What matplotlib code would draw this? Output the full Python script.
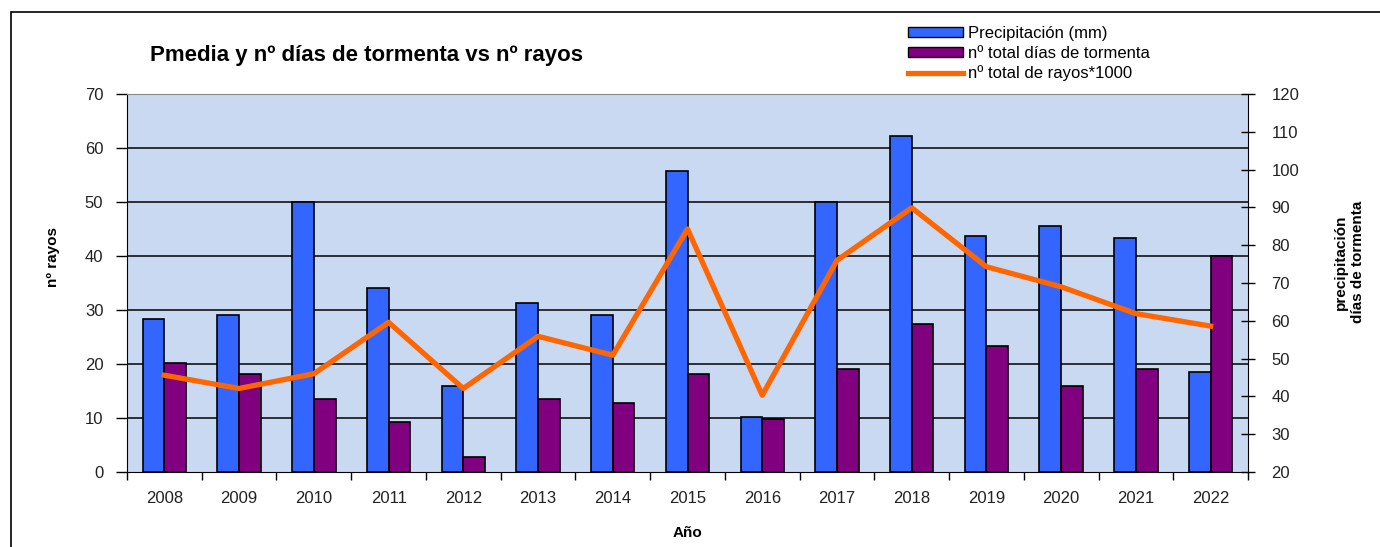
import matplotlib
matplotlib.use("Agg")
import matplotlib.pyplot as plt
import numpy as np
from matplotlib.patches import Rectangle
from matplotlib.lines import Line2D

plt.rcParams['font.family'] = ['Liberation Sans', 'DejaVu Sans']

years = ['2008', '2009', '2010', '2011', '2012', '2013', '2014', '2015',
         '2016', '2017', '2018', '2019', '2020', '2021', '2022']
precipitacion = [28.4, 29.0, 50.0, 34.1, 15.9, 31.3, 29.0, 55.7, 10.1, 50.0,
                 62.3, 43.7, 45.6, 43.4, 18.5]
dias_tormenta = [20.1, 18.2, 13.6, 9.3, 2.8, 13.5, 12.7, 18.2, 9.8, 19.0,
                 27.5, 23.3, 15.9, 19.0, 40.0]
rayos = [45.6, 42.1, 46.0, 59.6, 42.1, 55.9, 50.9, 84.3, 40.3, 76.0,
         89.9, 74.3, 69.0, 61.9, 58.6]
left_ticks = [0, 10, 20, 30, 40, 50, 60, 70]
right_ticks = [20, 30, 40, 50, 60, 70, 80, 90, 100, 110, 120]

W, H = 1380, 547
fig = plt.figure(figsize=(W / 100, H / 100), dpi=100)
fig.patch.set_facecolor('white')

# outer frame
fig.patches.append(Rectangle((11 / W, -0.1), 1.2, 1 - 12 / H + 0.1,
                             transform=fig.transFigure, fill=False,
                             edgecolor='black', lw=1.2))

ax = fig.add_axes([127 / W, 1 - 472 / H, (1248 - 127) / W, (472 - 94) / H])
ax.set_facecolor('#cad9f2')
x = np.arange(len(years))
bw = 0.29
ax.bar(x - bw / 2, precipitacion, bw, color='#3366ff', edgecolor='black',
       lw=1.2, zorder=3)
ax.bar(x + bw / 2, dias_tormenta, bw, color='#800080', edgecolor='black',
       lw=1.2, zorder=3)
ax.set_ylim(0, 70)
ax.set_xlim(-0.5, len(years) - 0.5)
ax.set_yticks(left_ticks)
ax.set_yticklabels([str(t) for t in left_ticks], fontsize=12, color='#222222')
for t in left_ticks[1:-1]:
    ax.axhline(t, color='black', lw=1.1, zorder=1)
ax.set_xticks(x)
ax.set_xticklabels(years, fontsize=12, color='#222222')
ax.tick_params(axis='x', which='major', length=0, pad=14)
ax.set_xticks(np.arange(-0.5, len(years), 1), minor=True)
ax.tick_params(axis='x', which='minor', length=6, direction='out', width=1)
ax.tick_params(axis='y', length=8, direction='out', width=1, pad=9)
ax.spines['top'].set_color('#888888')
ax.spines['left'].set_color('black')
ax.spines['bottom'].set_color('black')
ax.spines['right'].set_visible(False)
ax.set_xlabel('Año', fontsize=11, fontweight='bold', labelpad=14)
ax.set_ylabel('nº rayos', fontsize=11, fontweight='bold')
ax.yaxis.set_label_coords(-0.060, 0.57)

ax2 = ax.twinx()
ax2.plot(x, rayos, color='#ff6600', lw=3.8, zorder=5)
ax2.set_ylim(20, 120)
ax2.set_yticks(right_ticks)
ax2.set_yticklabels([str(t) for t in right_ticks], fontsize=12, color='#222222')
ax2.tick_params(axis='y', length=10, direction='inout', width=1, pad=12)
for s in ['top', 'left', 'bottom']:
    ax2.spines[s].set_visible(False)
ax2.spines['right'].set_color('black')
ax2.set_ylabel('precipitación\ndías de tormenta', fontsize=11,
               fontweight='bold')
ax2.yaxis.set_label_coords(1.077, 0.555)

fig.text(150 / W, 1 - 55 / H, 'Pmedia y nº días de tormenta vs nº rayos',
         fontsize=16, fontweight='bold', ha='left', va='center')

handles = [Rectangle((0, 0), 1, 1, facecolor='#3366ff', edgecolor='black'),
           Rectangle((0, 0), 1, 1, facecolor='#800080', edgecolor='black'),
           Line2D([0], [0], color='#ff6600', lw=3.8)]
labels = ['Precipitación (mm)', 'nº total días de tormenta',
          'nº total de rayos*1000']
fig.legend(handles, labels, loc='upper left',
           bbox_to_anchor=(908 / W, 1 - 26 / H), frameon=False, fontsize=12,
           handlelength=3.3, handleheight=0.6, handletextpad=0.3,
           labelspacing=0.28, borderpad=0.0, borderaxespad=0)

fig.savefig('out.png', dpi=100)
